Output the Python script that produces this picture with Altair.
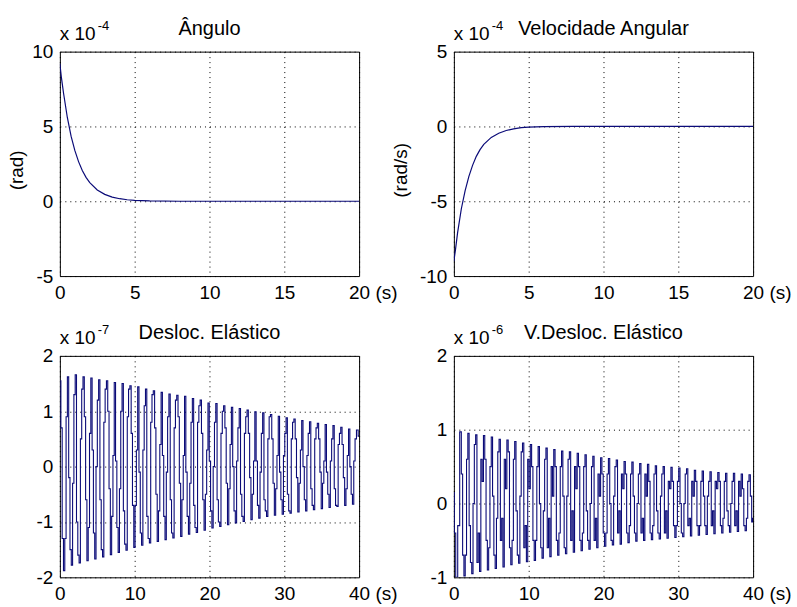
import altair as alt
import numpy as np
import pandas as pd

FONT = "Liberation Sans"
LINE = "#0b0b78"

# ---------------- rigid-body response (scaled by 1e-4) ----------------
t_rigid = [0, 0.1, 0.25, 0.5, 0.75, 1.0, 1.25, 1.5, 1.75, 2.0, 2.5, 3.0,
           3.5, 4.0, 4.5, 5.0, 6.0, 8.0, 10.0, 15.0, 20.0]
angle = [9.2, 8.3, 7.2, 5.6, 4.35, 3.4, 2.65, 2.05, 1.6, 1.25, 0.75, 0.46,
         0.28, 0.17, 0.1, 0.06, 0.02, 0.0, 0.0, 0.0, 0.0]
ang_vel = [-9.0, -8.3, -7.1, -5.5, -4.3, -3.35, -2.6, -2.0, -1.55, -1.2,
           -0.73, -0.45, -0.27, -0.16, -0.08, -0.04, -0.01, 0.0, 0.0, 0.0, 0.0]

# ---------------- elastic displacement (scaled by 1e-7) ----------------
# six samples per oscillation cycle:
# crest, two falling samples, trough, two rising samples
disp_start, disp_period = 0.05, 1.044
disp_peak = [1.55, 1.62, 1.66, 1.62, 1.6, 1.57, 1.55, 1.52, 1.5, 1.46,
             1.44, 1.4, 1.37, 1.34, 1.31, 1.29, 1.27, 1.23, 1.2, 1.15,
             1.14, 1.1, 1.07, 1.05, 1.02, 0.99, 0.97, 0.94, 0.91, 0.88,
             0.86, 0.83, 0.81, 0.78, 0.76, 0.74, 0.71, 0.68]
disp_fall1 = [0.7, -0.2, -1.0, 0.9, 0.3, -0.6, 1.0, 0.1, -0.8, 0.6,
              -0.1, -0.9, 0.7, 0.2, -0.6, 0.9, -0.1, -0.7, 0.6, 0.1,
              -0.6, 0.7, 0.0, -0.5, 0.6, 0.1, -0.6, 0.5, -0.1, -0.5,
              0.5, 0.0, -0.4, 0.5, -0.1, -0.4, 0.4, 0.0]
disp_fall2 = [-1.3, -1.5, -1.6, -0.6, -1.2, -1.5, -0.4, -1.1, -1.4, -0.7,
              -1.2, -1.3, -0.5, -0.9, -1.2, -0.3, -0.9, -1.1, -0.6, -0.8,
              -1.0, -0.3, -0.8, -0.9, -0.2, -0.7, -0.8, -0.3, -0.6, -0.8,
              -0.2, -0.6, -0.7, -0.1, -0.5, -0.7, -0.2, -0.5]
disp_trough = [-1.88, -1.78, -1.74, -1.7, -1.67, -1.63, -1.59, -1.55, -1.51, -1.46,
               -1.42, -1.38, -1.35, -1.32, -1.29, -1.26, -1.22, -1.19, -1.15, -1.11,
               -1.08, -1.05, -1.02, -0.99, -0.96, -0.93, -0.9, -0.88, -0.86, -0.84,
               -0.82, -0.8, -0.78, -0.76, -0.74, -0.72, -0.7, -0.68]
disp_rise1 = [-1.3, -0.3, 0.5, -1.1, 0.0, 0.8, -0.9, -0.4, 0.9, -0.7,
              0.3, 0.8, -0.8, -0.1, 0.7, -0.6, -0.3, 0.8, -0.5, 0.0,
              0.6, -0.4, 0.1, 0.6, -0.5, -0.1, 0.5, -0.4, 0.2, 0.5,
              -0.3, 0.2, 0.5, -0.3, 0.1, 0.4, -0.4, 0.1]
disp_rise2 = [0.9, 1.3, 1.4, 0.6, 1.2, 1.4, 0.2, 1.0, 1.4, 0.3,
              1.1, 1.3, 0.4, 0.9, 1.2, 0.2, 0.8, 1.1, 0.3, 0.8,
              1.0, 0.4, 0.7, 0.9, 0.1, 0.6, 0.9, 0.2, 0.6, 0.8,
              0.3, 0.6, 0.7, 0.1, 0.5, 0.6, 0.2, 0.5]
disp_tail_t, disp_tail_v = [39.75, 40.0], [0.66, 0.55]

# ---------------- elastic displacement rate (scaled by 1e-6) ----------------
vel_head_t = [0.0, 0.12, 0.38, 0.65]
vel_head_v = [0.15, -0.4, -1.0, -0.3]
vel_start, vel_period = 0.91, 1.044
vel_peak = [0.97, 0.95, 0.93, 0.92, 0.9, 0.87, 0.86, 0.84, 0.82, 0.8,
            0.77, 0.75, 0.73, 0.71, 0.7, 0.68, 0.66, 0.64, 0.62, 0.61,
            0.59, 0.57, 0.56, 0.54, 0.53, 0.51, 0.5, 0.49, 0.48, 0.47,
            0.45, 0.44, 0.43, 0.42, 0.41, 0.41, 0.4]
vel_fall1 = [0.4, -0.3, -0.8, 0.6, 0.1, -0.5, 0.7, -0.1, -0.6, 0.5,
             0.0, -0.6, 0.5, 0.1, -0.5, 0.5, -0.1, -0.5, 0.4, 0.0,
             -0.4, 0.4, 0.1, -0.4, 0.3, -0.1, -0.4, 0.3, 0.0, -0.3,
             0.3, 0.1, -0.3, 0.3, -0.1, -0.3, 0.2]
vel_fall2 = [-0.7, -0.8, -0.4, -0.5, -0.7, -0.2, -0.6, -0.7, -0.3, -0.5,
             -0.6, -0.2, -0.5, -0.6, -0.1, -0.5, -0.5, -0.2, -0.4, -0.5,
             -0.1, -0.4, -0.4, -0.2, -0.4, -0.4, -0.1, -0.3, -0.4, -0.2,
             -0.3, -0.3, -0.1, -0.3, -0.3, -0.1, -0.3]
vel_trough = [-0.98, -0.95, -0.92, -0.9, -0.88, -0.86, -0.83, -0.81, -0.79, -0.77,
              -0.74, -0.72, -0.7, -0.68, -0.66, -0.64, -0.62, -0.6, -0.58, -0.56,
              -0.55, -0.53, -0.51, -0.5, -0.49, -0.48, -0.47, -0.46, -0.45, -0.44,
              -0.43, -0.42, -0.41, -0.4, -0.39, -0.38, -0.37]
vel_rise1 = [-0.7, 0.0, 0.6, -0.6, -0.2, 0.6, -0.5, 0.1, 0.6, -0.5,
             -0.1, 0.5, -0.4, 0.1, 0.5, -0.4, 0.0, 0.4, -0.4, 0.1,
             0.4, -0.3, 0.0, 0.4, -0.3, 0.1, 0.3, -0.3, 0.0, 0.3,
             -0.3, 0.1, 0.3, -0.2, 0.0, 0.3, -0.2]
vel_rise2 = [0.6, 0.8, 0.3, 0.5, 0.7, 0.2, 0.6, 0.7, 0.2, 0.5,
             0.6, 0.1, 0.5, 0.6, 0.2, 0.5, 0.5, 0.1, 0.4, 0.5,
             0.2, 0.4, 0.4, 0.1, 0.4, 0.4, 0.2, 0.3, 0.4, 0.1,
             0.3, 0.3, 0.2, 0.3, 0.3, 0.1, 0.3]
vel_tail_t = [39.54, 39.72, 39.9, 40.0]
vel_tail_v = [0.39, 0.1, -0.25, -0.2]


def cycles(start, period, *columns):
    """Interleave the per-cycle samples on an evenly spaced time grid."""
    per_cycle = len(columns)
    vals = []
    for row in zip(*columns):
        vals += list(row)
    t = start + np.arange(len(vals)) * period / per_cycle
    return list(t), vals


t_disp, v_disp = cycles(disp_start, disp_period, disp_peak, disp_fall1, disp_fall2,
                        disp_trough, disp_rise1, disp_rise2)
t_disp += disp_tail_t
v_disp += disp_tail_v
t_vel, v_vel = cycles(vel_start, vel_period, vel_peak, vel_fall1, vel_fall2,
                      vel_trough, vel_rise1, vel_rise2)
t_vel = vel_head_t + t_vel + vel_tail_t
v_vel = vel_head_v + v_vel + vel_tail_v

W = 300
H_TOP, H_BOT = 225, 222
LABEL_SIZE = 19
MINUS_FIX = "replace(datum.label, '\u2212', '-')"


def panel(t, v, xdom, xticks, ydom, yticks, h, title, exponent, ytitle=None,
          ytitle_x=-43, width=1.0, interp="linear"):
    df = pd.DataFrame({"t": t, "v": v})
    yaxis = dict(values=yticks, labelPadding=7, labelFontSize=LABEL_SIZE,
                 labelFlush=False, labelExpr=MINUS_FIX)
    if ytitle:
        yaxis.update(title=ytitle, titleX=ytitle_x, titleY=h / 2 + 6, titleBaseline="middle",
                     titleFontSize=LABEL_SIZE, titleFontWeight="normal", titleFont=FONT)
    else:
        yaxis.update(title="")
    line = alt.Chart(df).mark_line(color=LINE, strokeWidth=width, clip=True,
                                   interpolate=interp).encode(
        x=alt.X("t:Q", scale=alt.Scale(domain=xdom, nice=False, zero=False),
                axis=alt.Axis(values=xticks, title="(s)", titleX=W + 27, titleY=7,
                              titleAlign="center", titleBaseline="top",
                              titleFontSize=LABEL_SIZE, titleFontWeight="normal",
                              titleFont=FONT, labelPadding=7, labelFontSize=LABEL_SIZE,
                              labelFlush=False)),
        y=alt.Y("v:Q", scale=alt.Scale(domain=ydom, nice=False, zero=False),
                axis=alt.Axis(**yaxis)),
    )
    one = alt.Data(values=[{"k": 0}])
    base_txt = alt.Chart(one).mark_text(font=FONT, fontSize=LABEL_SIZE, align="left",
                                        baseline="alphabetic", color="black").encode(
        x=alt.value(0), y=alt.value(-12), text=alt.value("x 10"))
    exp_txt = alt.Chart(one).mark_text(font=FONT, fontSize=13, align="left",
                                       baseline="alphabetic", color="black").encode(
        x=alt.value(38), y=alt.value(-22), text=alt.value(exponent))
    title_txt = alt.Chart(one).mark_text(font=FONT, fontSize=20, align="center",
                                         baseline="alphabetic", color="black").encode(
        x=alt.value(W / 2), y=alt.value(-17), text=alt.value(title))
    return alt.layer(line, base_txt, exp_txt, title_txt).properties(width=W, height=h)


tl = panel(t_rigid, angle, [0, 20], [0, 5, 10, 15, 20], [-5, 10], [-5, 0, 5, 10],
           H_TOP, "Ângulo", "-4", ytitle="(rad)", ytitle_x=-43, width=1.2)
tr = panel(t_rigid, ang_vel, [0, 20], [0, 5, 10, 15, 20], [-10, 5], [-10, -5, 0, 5],
           H_TOP, "Velocidade Angular", "-4", ytitle="(rad/s)", ytitle_x=-53, width=1.2)
bl = panel(t_disp, v_disp, [0, 40], [0, 10, 20, 30, 40], [-2, 2], [-2, -1, 0, 1, 2],
           H_BOT, "Desloc. Elástico", "-7", width=1.1, interp="step")
br = panel(t_vel, v_vel, [0, 40], [0, 10, 20, 30, 40], [-1, 2], [-1, 0, 1, 2],
           H_BOT, "V.Desloc. Elástico", "-6", width=1.1, interp="step")

chart = alt.concat(tl, tr, bl, br, columns=2, spacing=alt.RowColnumber(row=80, column=95),
                   bounds="flush").properties(
    padding={"left": 7, "top": 17, "right": 5, "bottom": 5},
    background="white",
).configure_view(
    stroke="black", strokeWidth=1,
).configure_axis(
    grid=True, gridColor="black", gridDash=[1, 4], gridWidth=1, gridOpacity=1,
    domain=False, ticks=False, labelFont=FONT, labelColor="black",
    titleColor="black",
)

chart.save("out.html", embed_options={"renderer": "svg", "actions": False})
